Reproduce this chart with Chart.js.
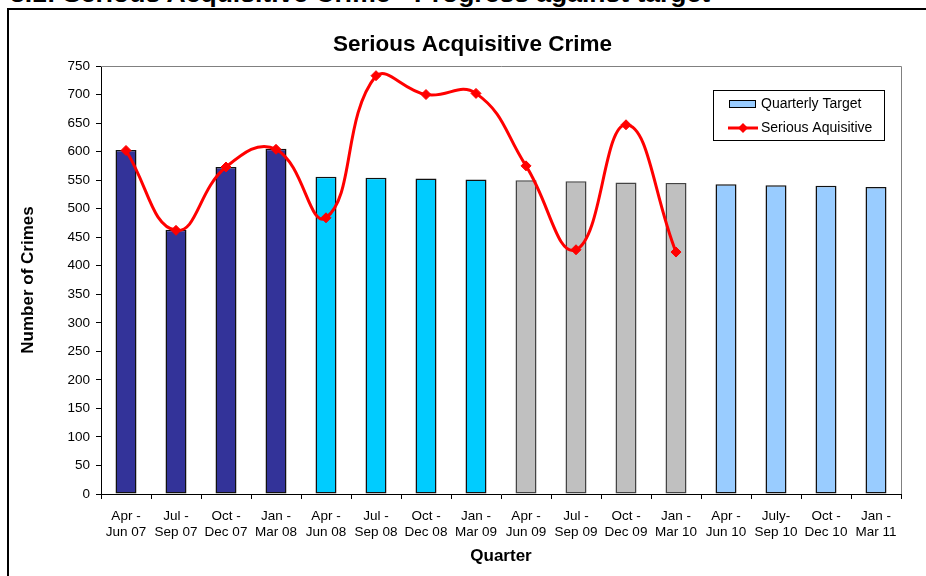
<!DOCTYPE html>
<html>
<head>
<meta charset="utf-8">
<script src="https://cdn.jsdelivr.net/npm/chart.js@4/dist/chart.umd.min.js"></script>
<style>
  html, body { margin: 0; padding: 0; background: #fff; }
  body { width: 926px; height: 576px; position: relative; overflow: hidden; font-family: "Liberation Sans", Arial, sans-serif; }
  #header { position: absolute; left: 10px; top: -22px; font-weight: bold; font-size: 26.5px; line-height: 30px; color: #000; white-space: nowrap; }
  #frame { position: absolute; left: 7px; top: 8px; width: 1000px; height: 700px; border-left: 2px solid #000; border-top: 2px solid #000; }
  #wrap { position: absolute; left: 0; top: 0; width: 926px; height: 576px; }
</style>
</head>
<body>
<div id="header">3.1: Serious Acquisitive Crime - Progress against target</div>
<div id="frame"></div>
<div id="wrap"><canvas id="c" width="926" height="576"></canvas></div>
<script>
// ---- data ----
const categories = [
  ["Apr -", "Jun 07"], ["Jul -", "Sep 07"], ["Oct -", "Dec 07"], ["Jan -", "Mar 08"],
  ["Apr -", "Jun 08"], ["Jul -", "Sep 08"], ["Oct -", "Dec 08"], ["Jan -", "Mar 09"],
  ["Apr -", "Jun 09"], ["Jul -", "Sep 09"], ["Oct -", "Dec 09"], ["Jan -", "Mar 10"],
  ["Apr -", "Jun 10"], ["July-", "Sep 10"], ["Oct -", "Dec 10"], ["Jan -", "Mar 11"]
];
const quarterlyTarget = [603, 463, 573, 605, 556, 554, 553, 551, 550, 548, 546, 545, 543, 541, 540, 538];
const seriousAcquisitive = [602, 462, 573, 604, 484, 733, 700, 702, 575, 428, 647, 424];
const yMin = 0, yMax = 750, yStep = 50;
const chartTitle = "Serious Acquisitive Crime";
const xTitle = "Quarter";
const yTitle = "Number of Crimes";
const legendLabels = ["Quarterly Target", "Serious Aquisitive"];

// ---- styles ----
const barFill = ["#333399","#333399","#333399","#333399","#00CCFF","#00CCFF","#00CCFF","#00CCFF",
                 "#C0C0C0","#C0C0C0","#C0C0C0","#C0C0C0","#99CCFF","#99CCFF","#99CCFF","#99CCFF"];
const barBorder = ["#111","#111","#111","#111","#111","#111","#111","#111",
                   "#444","#444","#444","#444","#111","#111","#111","#111"];
const FONT = '"Liberation Sans", Arial, sans-serif';

const decorPlugin = {
  id: 'decor',
  beforeDatasetsDraw(chart) {
    const {ctx, chartArea: a} = chart;
    ctx.save();
    ctx.strokeStyle = '#808080';
    ctx.lineWidth = 1;
    ctx.beginPath();
    ctx.moveTo(a.left, a.top + 0.5);
    ctx.lineTo(a.right + 0.5, a.top + 0.5);
    ctx.lineTo(a.right + 0.5, a.bottom);
    ctx.stroke();
    ctx.restore();
  },
  afterDraw(chart) {
    const ctx = chart.ctx;
    ctx.save();
    // title
    ctx.fillStyle = '#000';
    ctx.font = 'bold 22.5px ' + FONT;
    ctx.textAlign = 'center';
    ctx.textBaseline = 'middle';
    ctx.fillText(chartTitle, 472.5, 45);
    // legend
    ctx.fillStyle = '#fff';
    ctx.fillRect(713, 90, 172, 51);
    ctx.strokeStyle = '#000';
    ctx.lineWidth = 1;
    ctx.strokeRect(713.5, 90.5, 171, 50);
    ctx.fillStyle = '#99CCFF';
    ctx.fillRect(729.5, 100.5, 26, 7);
    ctx.strokeStyle = '#000';
    ctx.strokeRect(729.5, 100.5, 26, 7);
    ctx.strokeStyle = '#FF0000';
    ctx.lineWidth = 3;
    ctx.beginPath();
    ctx.moveTo(728, 128);
    ctx.lineTo(758, 128);
    ctx.stroke();
    ctx.fillStyle = '#FF0000';
    ctx.beginPath();
    ctx.moveTo(743, 123); ctx.lineTo(748, 128); ctx.lineTo(743, 133); ctx.lineTo(738, 128);
    ctx.closePath(); ctx.fill();
    ctx.fillStyle = '#000';
    ctx.font = '14px ' + FONT;
    ctx.textAlign = 'left';
    ctx.textBaseline = 'middle';
    ctx.fillText(legendLabels[0], 761, 104);
    ctx.fillText(legendLabels[1], 761, 128);
    ctx.restore();
  }
};

new Chart(document.getElementById('c'), {
  type: 'bar',
  data: {
    labels: categories,
    datasets: [
      {
        type: 'line',
        label: legendLabels[1],
        data: seriousAcquisitive,
        borderColor: '#FF0000',
        backgroundColor: '#FF0000',
        borderWidth: 3,
        tension: 0.45,
        pointStyle: 'rectRot',
        pointRadius: 5,
        pointBackgroundColor: '#FF0000',
        pointBorderColor: '#FF0000',
        pointBorderWidth: 1,
        fill: false,
        order: 0
      },
      {
        type: 'bar',
        label: legendLabels[0],
        data: quarterlyTarget,
        backgroundColor: barFill,
        borderColor: barBorder,
        borderWidth: 1.5,
        borderSkipped: false,
        categoryPercentage: 1,
        barPercentage: 0.42,
        order: 1
      }
    ]
  },
  options: {
    responsive: false,
    animation: false,
    events: [],
    layout: { padding: { left: 0, right: 25, top: 66, bottom: 0 } },
    plugins: {
      legend: { display: false },
      title: { display: false },
      tooltip: { enabled: false }
    },
    scales: {
      x: {
        offset: true,
        grid: { offset: true, drawOnChartArea: false, drawTicks: true, tickLength: 5, color: '#000' },
        border: { display: true, color: '#000', width: 1 },
        ticks: { color: '#000', font: { family: FONT, size: 13.5, lineHeight: 1.2 }, padding: 9, maxRotation: 0, autoSkip: false },
        title: { display: true, text: xTitle, color: '#000', font: { family: FONT, size: 17, weight: 'bold' }, padding: { top: 0, bottom: 9 } },
        afterFit(scale) { scale.height = 82; }
      },
      y: {
        min: yMin, max: yMax,
        grid: { drawOnChartArea: false, drawTicks: true, tickLength: 5, color: '#000' },
        border: { display: true, color: '#000', width: 1 },
        ticks: { stepSize: yStep, color: '#000', font: { family: FONT, size: 13.5 }, padding: 6 },
        title: { display: true, text: yTitle, color: '#000', font: { family: FONT, size: 17, weight: 'bold' }, padding: { top: 18, bottom: 0 } },
        afterFit(scale) { scale.width = 101; }
      }
    }
  },
  plugins: [decorPlugin]
});
</script>
</body>
</html>
